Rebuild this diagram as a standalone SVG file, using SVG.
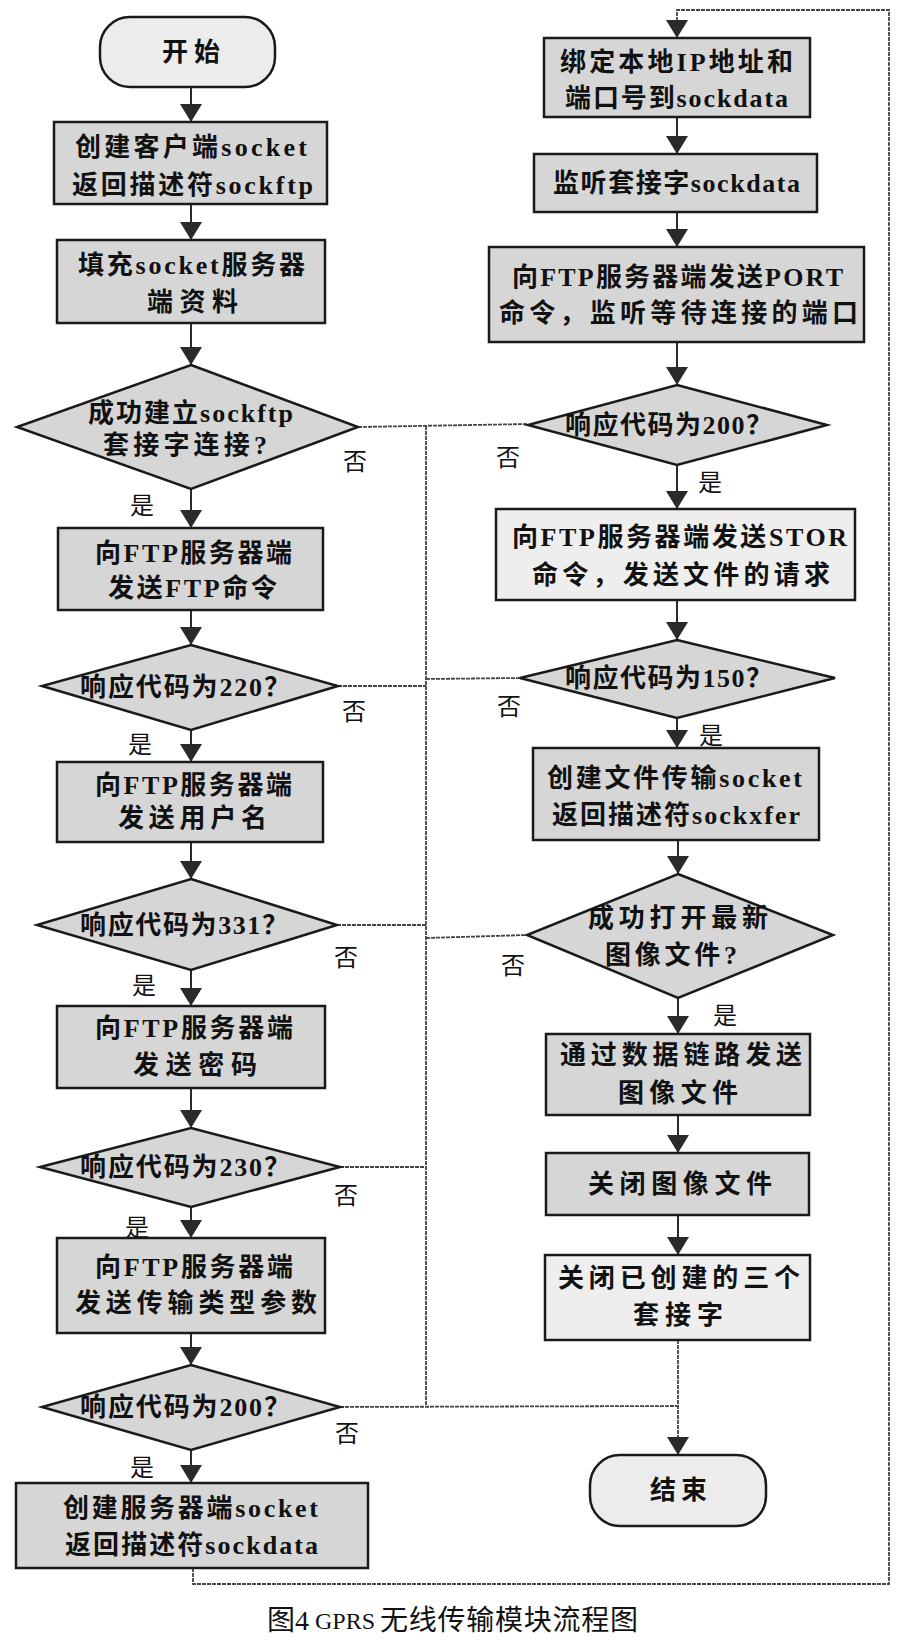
<svg xmlns="http://www.w3.org/2000/svg" width="903" height="1645" viewBox="0 0 903 1645">
<defs>
<style>
.box{fill:#d6d6d6;stroke:#1a1a1a;stroke-width:2.5}
.lite{fill:#eeeeee}
.term{fill:#ececec;stroke:#1a1a1a;stroke-width:2.5}
.t{font-family:"Liberation Serif","Noto Sans CJK SC",serif;font-size:26px;font-weight:bold;fill:#111;text-anchor:middle;dominant-baseline:central}
.lbl{font-family:"Noto Sans CJK SC",sans-serif;font-size:24px;fill:#111;text-anchor:middle;dominant-baseline:central}
.cap{font-family:"Liberation Serif","Noto Sans CJK SC",serif;font-size:28px;fill:#111;text-anchor:start;dominant-baseline:central}
.flow{stroke:#2a2a2a;stroke-width:2;fill:none}
.bus{stroke:#444;stroke-width:1.8;fill:none;stroke-dasharray:4 1}
</style>
<marker id="ah" viewBox="0 0 18 22" refX="18" refY="11" markerWidth="18" markerHeight="22" markerUnits="userSpaceOnUse" orient="auto">
<path d="M0,0 L18,11 L0,22 z" fill="#2a2a2a"/>
</marker>
</defs>
<rect width="903" height="1645" fill="#ffffff"/>

<g id="connectors">
<line class="flow" x1="191" y1="87" x2="191" y2="122" marker-end="url(#ah)"/>
<line class="flow" x1="191" y1="204" x2="191" y2="240" marker-end="url(#ah)"/>
<line class="flow" x1="191" y1="323" x2="191" y2="365" marker-end="url(#ah)"/>
<line class="flow" x1="191" y1="489" x2="191" y2="528" marker-end="url(#ah)"/>
<line class="flow" x1="191" y1="610" x2="191" y2="645" marker-end="url(#ah)"/>
<line class="flow" x1="191" y1="730" x2="191" y2="762" marker-end="url(#ah)"/>
<line class="flow" x1="191" y1="842" x2="191" y2="879" marker-end="url(#ah)"/>
<line class="flow" x1="191" y1="970" x2="191" y2="1006" marker-end="url(#ah)"/>
<line class="flow" x1="191" y1="1088" x2="191" y2="1128" marker-end="url(#ah)"/>
<line class="flow" x1="191" y1="1207" x2="191" y2="1238" marker-end="url(#ah)"/>
<line class="flow" x1="191" y1="1333" x2="191" y2="1365" marker-end="url(#ah)"/>
<line class="flow" x1="191" y1="1450" x2="191" y2="1483" marker-end="url(#ah)"/>

<line class="flow" x1="677" y1="117" x2="677" y2="154" marker-end="url(#ah)"/>
<line class="flow" x1="677" y1="212" x2="677" y2="247" marker-end="url(#ah)"/>
<line class="flow" x1="677" y1="342" x2="677" y2="385" marker-end="url(#ah)"/>
<line class="flow" x1="677" y1="465" x2="677" y2="509" marker-end="url(#ah)"/>
<line class="flow" x1="677" y1="600" x2="677" y2="640" marker-end="url(#ah)"/>
<line class="flow" x1="677" y1="718" x2="677" y2="748" marker-end="url(#ah)"/>
<line class="flow" x1="678" y1="840" x2="678" y2="874" marker-end="url(#ah)"/>
<line class="flow" x1="678" y1="998" x2="678" y2="1034" marker-end="url(#ah)"/>
<line class="flow" x1="678" y1="1115" x2="678" y2="1153" marker-end="url(#ah)"/>
<line class="flow" x1="678" y1="1215" x2="678" y2="1255" marker-end="url(#ah)"/>

<line class="bus" x1="678" y1="1340" x2="678" y2="1455" marker-end="url(#ah)"/>
<polyline class="bus" points="193,1568 193,1584 889,1584 889,10 677,10 677,38" marker-end="url(#ah)"/>

<line class="bus" x1="426" y1="426" x2="426" y2="1407"/>
<line class="bus" x1="358" y1="427" x2="528" y2="424"/>
<line class="bus" x1="338" y1="686" x2="426" y2="686"/>
<line class="bus" x1="426" y1="679" x2="520" y2="678"/>
<line class="bus" x1="337" y1="925" x2="426" y2="925"/>
<line class="bus" x1="426" y1="938" x2="527" y2="935"/>
<line class="bus" x1="340" y1="1167" x2="426" y2="1167"/>
<line class="bus" x1="340" y1="1407" x2="678" y2="1406"/>
</g>

<g id="start">
<rect class="term" x="100" y="17" width="175" height="70" rx="30" ry="30"/>
<text class="t" x="191" y="52" textLength="58">开始</text>
</g>
<g id="L1">
<rect class="box" x="54" y="122" width="273" height="82"/>
<text class="t" x="191" y="147" textLength="232">创建客户端socket</text>
<text class="t" x="192.5" y="185" textLength="241">返回描述符sockftp</text>
</g>
<g id="L2">
<rect class="box" x="57" y="240" width="268" height="83"/>
<text class="t" x="191.5" y="265" textLength="227">填充socket服务器</text>
<text class="t" x="192.5" y="302" textLength="91">端资料</text>
</g>
<g id="D1">
<polygon class="box" points="191,365 358,427 191,489 17,427"/>
<text class="t" x="190.5" y="413" textLength="205">成功建立sockftp</text>
<text class="t" x="185" y="445" textLength="164">套接字连接?</text>
</g>
<g id="L3">
<rect class="box" x="58" y="528" width="265" height="82"/>
<text class="t" x="193.5" y="553" textLength="197">向FTP服务器端</text>
<text class="t" x="192.5" y="588" textLength="169">发送FTP命令</text>
</g>
<g id="D2">
<polygon class="box" points="191,645 338,686 191,730 42,686"/>
<text class="t" x="185" y="687" textLength="210">响应代码为220？</text>
</g>
<g id="L4">
<rect class="box" x="57" y="762" width="266" height="80"/>
<text class="t" x="193.5" y="785" textLength="197">向FTP服务器端</text>
<text class="t" x="192.5" y="818" textLength="149">发送用户名</text>
</g>
<g id="D3">
<polygon class="box" points="191,879 337,925 191,970 37,925"/>
<text class="t" x="184" y="925" textLength="208">响应代码为331？</text>
</g>
<g id="L5">
<rect class="box" x="57" y="1006" width="268" height="82"/>
<text class="t" x="194" y="1028" textLength="198">向FTP服务器端</text>
<text class="t" x="195" y="1065" textLength="124">发送密码</text>
</g>
<g id="D4">
<polygon class="box" points="191,1128 340,1167 191,1207 40,1167"/>
<text class="t" x="185" y="1167" textLength="210">响应代码为230？</text>
</g>
<g id="L6">
<rect class="box" x="57" y="1238" width="268" height="95"/>
<text class="t" x="194" y="1267" textLength="198">向FTP服务器端</text>
<text class="t" x="196" y="1303" textLength="242">发送传输类型参数</text>
</g>
<g id="D5">
<polygon class="box" points="191,1365 340,1407 191,1450 42,1407"/>
<text class="t" x="185" y="1407" textLength="210">响应代码为200？</text>
</g>
<g id="L7">
<rect class="box" x="16" y="1483" width="352" height="85"/>
<text class="t" x="190.5" y="1508" textLength="255">创建服务器端socket</text>
<text class="t" x="191.5" y="1545" textLength="253">返回描述符sockdata</text>
</g>

<g id="R1">
<rect class="box" x="544" y="38" width="266" height="79"/>
<text class="t" x="676.5" y="62" textLength="233">绑定本地IP地址和</text>
<text class="t" x="676.5" y="98" textLength="223">端口号到sockdata</text>
</g>
<g id="R2">
<rect class="box" x="534" y="154" width="283" height="58"/>
<text class="t" x="676.5" y="183" textLength="247">监听套接字sockdata</text>
</g>
<g id="R3">
<rect class="box" x="489" y="247" width="375" height="95"/>
<text class="t" x="677.5" y="277" textLength="331">向FTP服务器端发送PORT</text>
<text class="t" x="678.5" y="313" textLength="359">命令，监听等待连接的端口</text>
</g>
<g id="DR1">
<polygon class="box" points="677,385 827,425 677,465 528,425"/>
<text class="t" x="668.5" y="425" textLength="207">响应代码为200？</text>
</g>
<g id="R4">
<rect class="box lite" x="496" y="509" width="359" height="91"/>
<text class="t" x="679.5" y="537" textLength="335">向FTP服务器端发送STOR</text>
<text class="t" x="681" y="575" textLength="298">命令，发送文件的请求</text>
</g>
<g id="DR2">
<polygon class="box" points="677,640 835,678 677,718 520,678"/>
<text class="t" x="668.5" y="678" textLength="207">响应代码为150？</text>
</g>
<g id="R5">
<rect class="box" x="533" y="748" width="286" height="92"/>
<text class="t" x="674.5" y="778" textLength="255">创建文件传输socket</text>
<text class="t" x="676" y="815" textLength="248">返回描述符sockxfer</text>
</g>
<g id="DR3">
<polygon class="box" points="678,874 833,935 678,998 527,935"/>
<text class="t" x="678" y="918" textLength="180">成功打开最新</text>
<text class="t" x="671" y="955" textLength="132">图像文件?</text>
</g>
<g id="R6">
<rect class="box" x="546" y="1034" width="264" height="81"/>
<text class="t" x="681" y="1055" textLength="242">通过数据链路发送</text>
<text class="t" x="678" y="1093" textLength="120">图像文件</text>
</g>
<g id="R7">
<rect class="box" x="546" y="1153" width="263" height="62"/>
<text class="t" x="680" y="1184" textLength="184">关闭图像文件</text>
</g>
<g id="R8">
<rect class="box lite" x="545" y="1255" width="265" height="85"/>
<text class="t" x="679" y="1278" textLength="242">关闭已创建的三个</text>
<text class="t" x="678" y="1315" textLength="90">套接字</text>
</g>
<g id="end">
<rect class="term" x="590" y="1455" width="176" height="71" rx="30" ry="30"/>
<text class="t" x="678.5" y="1490" textLength="57">结束</text>
</g>

<g id="labels">
<text class="lbl" x="355" y="459">否</text>
<text class="lbl" x="354" y="709">否</text>
<text class="lbl" x="346" y="955">否</text>
<text class="lbl" x="346" y="1193">否</text>
<text class="lbl" x="347" y="1431">否</text>
<text class="lbl" x="508" y="455">否</text>
<text class="lbl" x="509" y="704">否</text>
<text class="lbl" x="513" y="963">否</text>
<text class="lbl" x="142" y="503">是</text>
<text class="lbl" x="140" y="742">是</text>
<text class="lbl" x="144" y="983">是</text>
<text class="lbl" x="137" y="1225">是</text>
<text class="lbl" x="142" y="1465">是</text>
<text class="lbl" x="710" y="480">是</text>
<text class="lbl" x="711" y="733">是</text>
<text class="lbl" x="725" y="1013">是</text>
</g>

<g id="caption">
<text class="cap" x="267" y="1620">图4</text>
<text class="cap" x="315" y="1621" style="font-size:24px">GPRS</text>
<text class="cap" x="380" y="1620" textLength="258">无线传输模块流程图</text>
</g>
</svg>
